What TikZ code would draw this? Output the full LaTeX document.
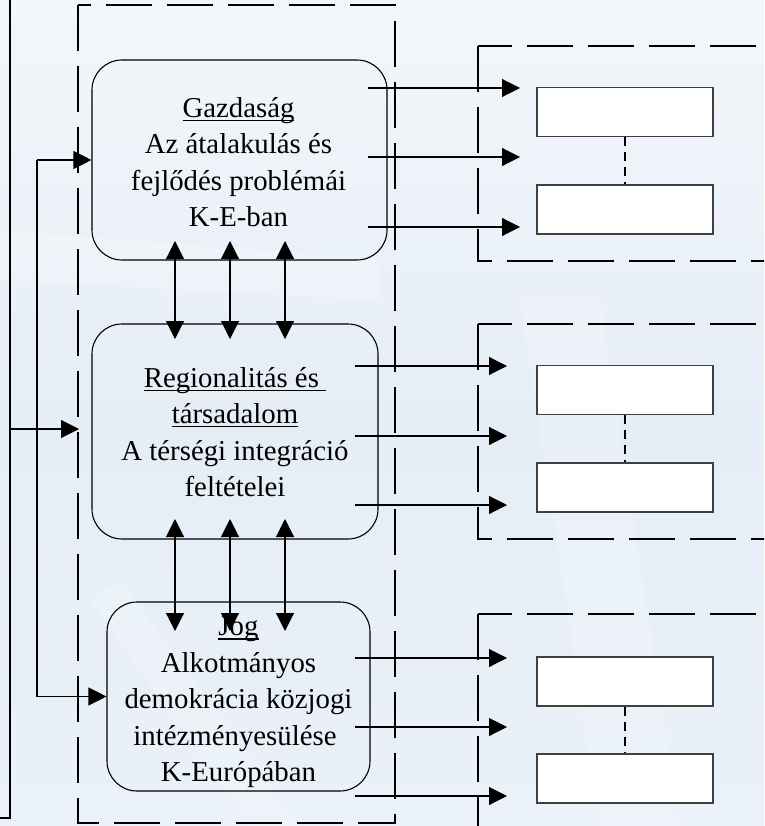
\documentclass[tikz,border=0pt]{standalone}
\usepackage{fontspec}
\setmainfont{Liberation Serif}
\usetikzlibrary{arrows.meta}
\definecolor{bgtop}{RGB}{243,247,251}
\definecolor{bgmid}{RGB}{229,237,246}
\definecolor{bgbot}{RGB}{234,241,248}
\definecolor{bgl}{RGB}{244,248,252}
\newcommand{\myul}[1]{\setbox0\hbox{#1}\rlap{\rule[-3.8pt]{\wd0}{1.3pt}}\box0}
\tikzset{
  ln/.style={line width=1.1pt, draw=black},
  arr/.style={ln, -{Triangle[length=18pt,width=18pt]}},
  darr/.style={ln, {Triangle[length=18pt,width=18pt]}-{Triangle[length=18pt,width=18pt]}},
  bigdash/.style={line width=1.1pt, draw=black, dash pattern=on 46pt off 15pt},
  smalldash/.style={line width=1.1pt, draw=black, dash pattern=on 9pt off 6pt},
  topic/.style={draw, line width=1.1pt, rounded corners=30pt, inner sep=0pt},
  topictext/.style={align=center, font=\fontsize{28.8}{36.5}\selectfont, inner sep=0pt},
  wbox/.style={draw=black!75, fill=white, line width=1.1pt, minimum width=176pt,
    minimum height=49pt, inner sep=0pt},
}
\begin{document}
\begin{tikzpicture}[x=1pt,y=-1pt]
\useasboundingbox (0,0) rectangle (764,826);
\shade[top color=bgtop, bottom color=bgmid] (0,0) rectangle (764,420);
\shade[top color=bgmid, bottom color=bgbot] (0,420) rectangle (764,826);
% faint watermark streaks
\fill[bgl, opacity=0.45] (0,230) -- (380,260) -- (380,300) -- (0,280) -- cycle;
\fill[bgl, opacity=0.35] (520,300) -- (600,300) -- (680,826) -- (600,826) -- cycle;
\fill[bgl, opacity=0.35] (120,580) -- (300,826) -- (250,826) -- (90,600) -- cycle;

% left bracket line
\coordinate (lb) at (0,818);
\coordinate (lc) at (10,818);
\coordinate (lt) at (10,-2);
\draw[ln] (lb) -- (lc) -- (lt);

% big dashed frame
\draw[bigdash] (78,5) rectangle (395,823);

% topic boxes
\node[topic, minimum width=295pt, minimum height=200pt] (gaz) at (239.5,160) {};
\node[topictext] (gazt) at (238.5,162)
  {\myul{Gazdaság}\\ Az átalakulás és\\ fejlődés problémái\\ K-E-ban};
\node[topic, minimum width=286pt, minimum height=215pt] (reg) at (235,431.5) {};
\node[topictext] (regt) at (235,432)
  {\myul{Regionalitás és }\\ \myul{társadalom}\\ A térségi integráció\\ feltételei};
\node[topic, minimum width=263pt, minimum height=189pt] (jog) at (238.5,696.5) {};
\node[topictext] (jogt) at (238.5,702.5)
  {\myul{Jog}\\ Alkotmányos\\ demokrácia közjogi\\ intézményesülése\rule{7pt}{0pt}\\ K-Európában};

% left connectors
\coordinate (bt) at (37,160);
\coordinate (bb) at (37,696.5);
\draw[ln] (bt) -- (bb);
\draw[arr] (bt) -- (gaz.west);
\draw[arr] (bb) -- (jog.west);
\coordinate (lm) at (10,429);
\coordinate (lme) at (79,429);
\draw[arr] (lm) -- (lme);

% vertical double arrows
\foreach \x [count=\i] in {175,230,285} {
  \coordinate (u\i) at (\x,241);
  \coordinate (d\i) at (\x,339);
  \draw[darr] (u\i) -- (d\i);
}
\foreach \x [count=\i] in {175,230,285} {
  \coordinate (v\i) at (\x,519);
  \coordinate (w\i) at (\x,631);
  \draw[darr] (v\i) -- (w\i);
}

% right group frames (open to the right)
\begin{scope}
\clip (0,0) rectangle (764,826);
\foreach \t/\b in {46/261, 324/539} {
  \draw[bigdash, dash phase=12pt] (478,\t) -- (800,\t);
  \draw[bigdash] (478,\t) -- (478,\b) -- (800,\b);
}
\draw[bigdash, dash phase=12pt] (478,614) -- (800,614);
\draw[bigdash] (478,614) -- (478,850);
\end{scope}

% white boxes
\node[wbox] (r11) at (625,112) {};
\node[wbox] (r12) at (625,209.5) {};
\node[wbox] (r21) at (625,390) {};
\node[wbox] (r22) at (625,487.5) {};
\node[wbox] (r31) at (625,681.5) {};
\node[wbox] (r32) at (625,778.5) {};
\draw[smalldash] (r11.south) -- (r12.north);
\draw[smalldash] (r21.south) -- (r22.north);
\draw[smalldash] (r31.south) -- (r32.north);

% outgoing arrows
\foreach \n/\xs/\xe/\y in {g1/368/520/88, g2/368/520/157, g3/368/520/227,
  s1/355/507/366, s2/355/507/436, s3/355/507/505,
  j1/355/507/658, j2/355/507/727, j3/355/507/796} {
  \coordinate (\n s) at (\xs,\y);
  \coordinate (\n e) at (\xe,\y);
  \draw[arr] (\n s) -- (\n e);
}
\end{tikzpicture}
\end{document}
